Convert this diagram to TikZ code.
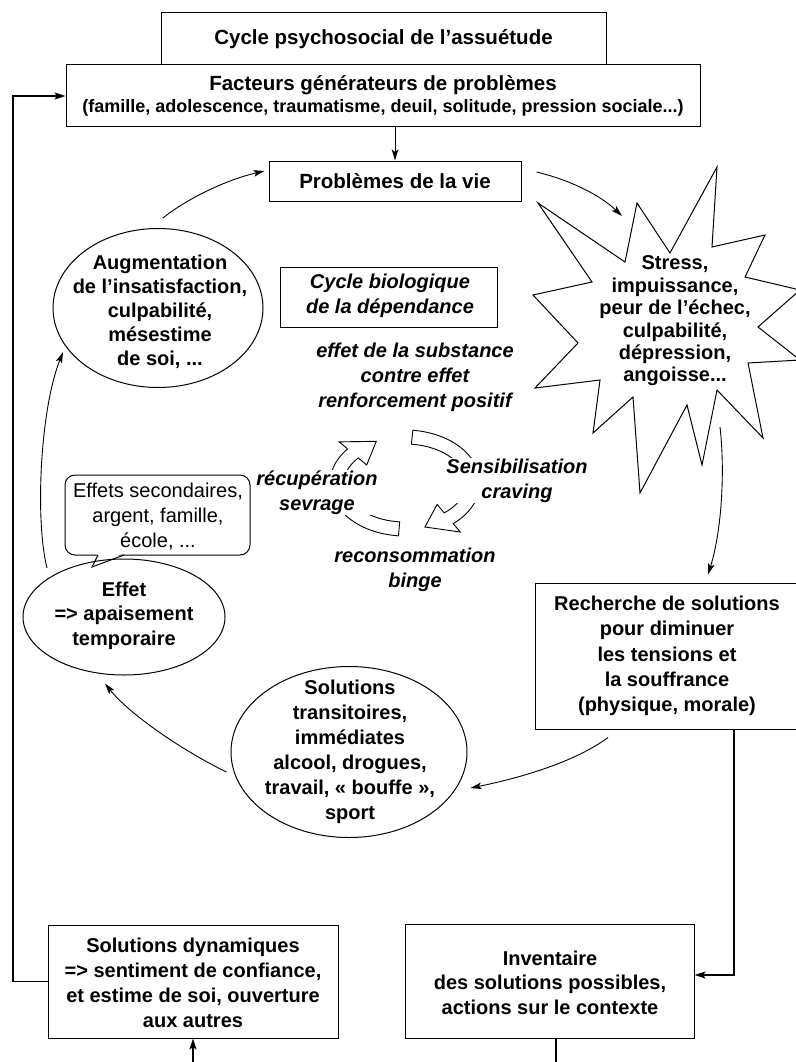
\documentclass[tikz,border=0pt]{standalone}
\usepackage{fontspec}
\setmainfont{Liberation Sans}
\usetikzlibrary{arrows.meta,shapes.geometric,calc}
\begin{document}
\begin{tikzpicture}[x=1pt,y=-1pt,
  boxline/.style={draw=black,line width=1pt},
  rbox/.style={boxline,rectangle,inner sep=0pt,fill=white},
  ell/.style={boxline,ellipse,inner sep=0pt,fill=white},
  txt/.style={align=center,inner sep=0pt},
  bfa/.style={txt,font=\bfseries\fontsize{20}{24.5}\selectfont},
  itl/.style={txt,fill=white,inner sep=1pt,font=\bfseries\itshape\fontsize{20}{25}\selectfont},
  arr/.style={line width=0.9pt,-{Stealth[length=11pt,width=6.5pt,inset=2.5pt]}},
  heavy/.style={line width=1.8pt},
  heavyarr/.style={line width=1.8pt,-{Stealth[length=11pt,width=7pt,inset=2.5pt]}},
  hollow/.style={draw=black,line width=0.9pt,fill=white,line join=miter}
]
\useasboundingbox (0,0) rectangle (795,1062);
\fill[white] (0,0) rectangle (795,1062);

% top boxes
\node[rbox,minimum width=445,minimum height=52,font=\bfseries\fontsize{20.5}{24}\selectfont] (title) at (383.5,39) {Cycle psychosocial de l’assuétude};
\node[rbox,minimum width=634,minimum height=62] (fact) at (383,96) {};
\node[txt,font=\bfseries\fontsize{18}{22}\selectfont] (facttxt) at (383,96)
  {{\fontsize{20.5}{22}\selectfont Facteurs générateurs de problèmes}\\(famille, adolescence, traumatisme, deuil, solitude, pression sociale...)};
\node[rbox,minimum width=252,minimum height=40,font=\bfseries\fontsize{20.5}{24}\selectfont] (prob) at (395,181) {Problèmes de la vie};

% star
\draw[boxline,fill=white,line join=miter] (717,167) -- (712,247) -- (765,235) -- (745,277) -- (800,290) -- (758,327)
  -- (800,360) -- (748,363) -- (763,438) -- (717,390) -- (702,465) -- (687,405) -- (640,493) -- (633,397)
  -- (593,433) -- (600,380) -- (535,388) -- (578,343) -- (533,295) -- (592,282) -- (538,203) -- (625,262)
  -- (637,203) -- (670,253) -- cycle;
\node[txt,font=\bfseries\fontsize{20}{22.4}\selectfont] (stress) at (675,321)
  {Stress,\\impuissance,\\peur de l’échec,\\culpabilité,\\dépression,\\angoisse...};
\coordinate (stin) at (622,216);
\coordinate (stout) at (720,427);

% left ellipses
\node[ell,minimum width=210,minimum height=159] (augell) at (158,308) {};
\node[txt,font=\bfseries\fontsize{20}{24}\selectfont] (augtxt) at (160,312)
  {Augmentation\\de l’insatisfaction,\\culpabilité,\\mésestime\\de soi, ...};

\node[rbox,rounded corners=10pt,minimum width=185,minimum height=80] (bubble) at (157.5,515) {};
\node[txt,font=\fontsize{20}{25}\selectfont] (bubtxt) at (158,517) {Effets secondaires,\\argent, famille,\\école, ...};
\fill[white] (98,553) -- (92,568) -- (124,553) -- cycle;
\draw[boxline,line join=miter] (98,555) -- (92,567) -- (124,555);

\node[boxline,ellipse,inner sep=0pt,minimum width=202,minimum height=116] (effell) at (124,617) {};
\node[txt,font=\bfseries\fontsize{20}{24.5}\selectfont] (efftxt) at (124,615.5) {Effet\\=> apaisement\\temporaire};

\node[ell,minimum width=236,minimum height=171] (solell) at (349,752) {};
\node[txt,font=\bfseries\fontsize{20}{25}\selectfont] (soltxt) at (350,751.5)
  {Solutions\\transitoires,\\immédiates\\alcool, drogues,\\travail, « bouffe »,\\sport};

% right box
\node[rbox,minimum width=265,minimum height=146] (rech) at (667.5,656) {};
\node[txt,font=\bfseries\fontsize{20}{25.3}\selectfont] (rechtxt) at (667,656)
  {Recherche de solutions\\pour diminuer\\les tensions et\\la souffrance\\(physique, morale)};

% bottom boxes
\node[rbox,minimum width=290,minimum height=113] (soldyn) at (193,981.5) {};
\node[txt,font=\bfseries\fontsize{20}{25}\selectfont] (soldyntxt) at (193,982.5)
  {Solutions dynamiques\\=> sentiment de confiance,\\et estime de soi, ouverture\\aux autres};
\node[rbox,minimum width=289,minimum height=114] (inv) at (549.5,981) {};
\node[txt,font=\bfseries\fontsize{20}{24.5}\selectfont] (invtxt) at (550,982.5)
  {Inventaire\\des solutions possibles,\\actions sur le contexte};

% biological cycle
\node[rbox,minimum width=217,minimum height=60] (bio) at (388.5,297) {};
\node[txt,font=\bfseries\itshape\fontsize{20}{25}\selectfont] (biotxt) at (390,296) {Cycle biologique\\de la dépendance};
\node[txt,font=\bfseries\itshape\fontsize{20}{25}\selectfont] (effets) at (415,377)
  {effet de la substance\\contre effet\\renforcement positif};

\begin{scope}[shift={(405,483)},y={(0pt,1pt)}]
  \draw[hollow] (84:75 and 53) arc[start angle=84,end angle=-50,x radius=75,y radius=53]
    -- (-50:86 and 64) -- (-73:68 and 46) -- (-50:50 and 28) -- (-50:61 and 39)
    arc[start angle=-50,end angle=84,x radius=61,y radius=39] -- cycle;
  \draw[hollow] (-95:75 and 53) arc[start angle=-95,end angle=-220,x radius=75,y radius=53]
    -- (-220:86 and 64) -- (-245:68 and 46) -- (-220:50 and 28) -- (-220:61 and 39)
    arc[start angle=-220,end angle=-95,x radius=61,y radius=39] -- cycle;
\end{scope}
\node[itl] (sens) at (517,480.5) {Sensibilisation\\craving};
\node[itl] (recup) at (317,492.5) {récupération\\sevrage};
\node[itl] (recons) at (415,570) {reconsommation\\binge};

% connectors
\draw[arr] (prob.north |- fact.south) -- (prob.north);
\draw[arr] ([shift={(5,-90)}]augell.center) .. controls (185,200) and (225,180) .. ([shift={(-4,-10)}]prob.west);
\draw[arr] ([shift={(15,-9)}]prob.east) .. controls (570,180) and (600,195) .. (stin);
\draw[arr] (stout) .. controls (725,470) and (722,530) .. ([shift={(40.5,-8)}]rech.north);
\draw[arr] ([shift={(-59.5,8)}]rech.south) .. controls (575,762) and (520,778) .. ([shift={(3,36)}]solell.east);
\draw[arr] ([shift={(-4,20)}]solell.west) .. controls (185,752) and (130,715) .. ([shift={(-19,8)}]effell.south);
\draw[arr] ([shift={(-77,-49)}]effell.center) .. controls (35,520) and (40,410) .. ([shift={(-95,44)}]augell.center);

\coordinate (leftx) at (13,0);
\coordinate (rightx) at (734,0);
\coordinate (bl) at (193,1062);
\coordinate (br) at (556,1062);
\coordinate (invin) at ([yshift=6pt]inv.east);
\draw[heavyarr] (soldyn.west) -- (leftx |- soldyn.west) -- (leftx |- fact.west) -- (fact.west);
\draw[heavyarr] (rightx |- rech.south) -- (rightx |- invin) -- (invin);
\draw[heavyarr] (bl) -- (soldyn.south);
\draw[heavy] (br |- inv.south) -- (br);
\end{tikzpicture}
\end{document}
